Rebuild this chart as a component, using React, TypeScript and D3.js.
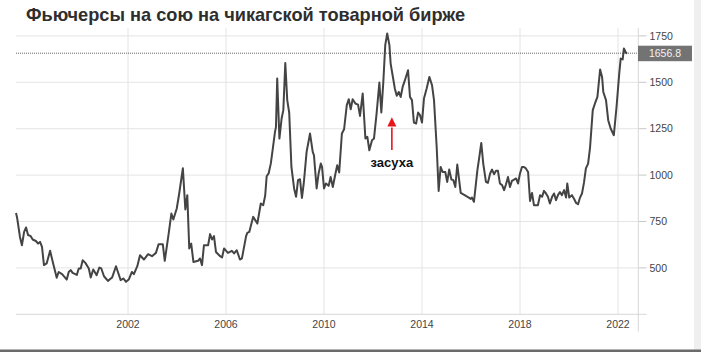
import React from "react";
import * as d3 from "d3";

const title = "Фьючерсы на сою на чикагской товарной бирже";
const annotationText = "засуха";
const annotationDate = 2012.77;
const arrowFrom = 1135;
const arrowTo = 1312;
const arrowHeadBase = 1262;

const dates: number[] = [
  1997.43, 1997.48, 1997.59, 1997.67, 1997.76, 1997.84, 1997.92, 1998.03, 1998.11, 1998.24,
  1998.33, 1998.41, 1998.49, 1998.57, 1998.68, 1998.82, 1998.93, 1999.09, 1999.17, 1999.31,
  1999.5, 1999.58, 1999.66, 1999.74, 1999.91, 1999.99, 2000.07, 2000.15, 2000.26, 2000.4,
  2000.48, 2000.58, 2000.72, 2000.83, 2000.91, 2001.02, 2001.18, 2001.35, 2001.51, 2001.7,
  2001.81, 2001.92, 2002.03, 2002.16, 2002.24, 2002.38, 2002.49, 2002.65, 2002.82, 2002.98,
  2003.14, 2003.25, 2003.42, 2003.5, 2003.66, 2003.77, 2003.85, 2003.99, 2004.09, 2004.24,
  2004.34, 2004.42, 2004.5, 2004.58, 2004.67, 2004.86, 2004.94, 2005.02, 2005.1, 2005.27,
  2005.35, 2005.43, 2005.51, 2005.59, 2005.76, 2005.84, 2005.92, 2006.08, 2006.24, 2006.33,
  2006.44, 2006.57, 2006.65, 2006.82, 2006.87, 2006.95, 2007.11, 2007.28, 2007.42, 2007.52,
  2007.6, 2007.66, 2007.74, 2007.83, 2007.92, 2008.0, 2008.04, 2008.09, 2008.18, 2008.27,
  2008.34, 2008.42, 2008.5, 2008.58, 2008.67, 2008.78, 2008.86, 2008.94, 2009.02, 2009.1,
  2009.18, 2009.29, 2009.43, 2009.54, 2009.59, 2009.7, 2009.78, 2009.87, 2009.92, 2010.0,
  2010.08, 2010.19, 2010.27, 2010.36, 2010.46, 2010.54, 2010.62, 2010.73, 2010.82, 2010.93,
  2011.01, 2011.09, 2011.17, 2011.28, 2011.39, 2011.47, 2011.58, 2011.69, 2011.77, 2011.85,
  2011.96, 2012.04, 2012.15, 2012.26, 2012.34, 2012.42, 2012.5, 2012.58, 2012.67, 2012.72,
  2012.8, 2012.89, 2012.97, 2013.05, 2013.13, 2013.21, 2013.29, 2013.43, 2013.51, 2013.59,
  2013.67, 2013.76, 2013.84, 2013.92, 2014.0, 2014.08, 2014.19, 2014.3, 2014.41, 2014.49,
  2014.6, 2014.68, 2014.76, 2014.84, 2014.95, 2015.03, 2015.11, 2015.2, 2015.28, 2015.36,
  2015.44, 2015.58, 2015.74, 2015.91, 2015.99, 2016.04, 2016.12, 2016.26, 2016.34, 2016.42,
  2016.5, 2016.61, 2016.69, 2016.78, 2016.86, 2016.94, 2017.02, 2017.1, 2017.18, 2017.27,
  2017.35, 2017.43, 2017.51, 2017.59, 2017.67, 2017.76, 2017.84, 2017.92, 2018.0, 2018.08,
  2018.16, 2018.24, 2018.33, 2018.41, 2018.49, 2018.57, 2018.65, 2018.73, 2018.82, 2018.9,
  2018.98, 2019.06, 2019.14, 2019.22, 2019.31, 2019.39, 2019.47, 2019.55, 2019.63, 2019.71,
  2019.8, 2019.88, 2019.93, 2020.01, 2020.12, 2020.2, 2020.29, 2020.37, 2020.45, 2020.53,
  2020.61, 2020.69, 2020.78, 2020.86, 2020.97, 2021.06, 2021.16, 2021.27, 2021.35, 2021.4,
  2021.51, 2021.6, 2021.7, 2021.83, 2021.94, 2022.05, 2022.11, 2022.19, 2022.24, 2022.33,
  2022.38,
];

const prices: number[] = [
  796, 766, 667, 622, 694, 718, 677, 671, 653, 645,
  631, 640, 613, 515, 524, 592, 532, 447, 478, 466,
  437, 478, 488, 473, 462, 497, 497, 541, 527, 497,
  448, 491, 461, 502, 497, 455, 430, 448, 509, 434,
  443, 425, 437, 478, 466, 509, 568, 545, 574, 563,
  581, 628, 628, 538, 685, 793, 761, 820, 901, 1037,
  815, 892, 605, 631, 532, 538, 551, 515, 622, 622,
  682, 653, 671, 586, 563, 556, 605, 581, 592, 578,
  595, 545, 551, 671, 689, 694, 775, 739, 847, 838,
  890, 994, 1009, 1063, 1152, 1233, 1260, 1520, 1197, 1305,
  1350, 1604, 1404, 1336, 1044, 928, 883, 973, 978, 877,
  963, 1125, 1224, 1125, 1107, 928, 1009, 1062, 1044, 928,
  955, 942, 990, 936, 1003, 1053, 1014, 1224, 1247, 1377,
  1409, 1355, 1409, 1386, 1380, 1319, 1440, 1197, 1206, 1134,
  1188, 1197, 1337, 1499, 1337, 1499, 1700, 1763, 1700, 1601,
  1538, 1467, 1427, 1448, 1421, 1475, 1506, 1565, 1421, 1404,
  1283, 1278, 1337, 1323, 1283, 1413, 1467, 1529, 1484, 1404,
  1150, 915, 1044, 1017, 1017, 963, 1030, 976, 973, 936,
  1057, 904, 892, 879, 872, 879, 856, 1026, 1098, 1173,
  1062, 963, 958, 1009, 1030, 1005, 1023, 1023, 955, 946,
  919, 951, 990, 936, 969, 976, 982, 955, 1009, 1044,
  1044, 1036, 1017, 861, 904, 838, 838, 838, 892, 883,
  915, 901, 883, 847, 883, 901, 865, 892, 909, 892,
  919, 879, 955, 879, 892, 874, 850, 843, 879, 901,
  958, 1036, 1062, 1150, 1350, 1386, 1421, 1569, 1529, 1448,
  1404, 1296, 1251, 1215, 1367, 1547, 1628, 1623, 1682, 1658,
  1656.8,
];

const yTicks: number[] = [500, 750, 1000, 1250, 1500, 1750];
const xTicks: number[] = [2002, 2006, 2010, 2014, 2018, 2022];
const lastValue = 1656.8;

const W = 701;
const H = 352;
const plotLeft = 16;
const plotRight = 638.3;
const plotTop = 28;
const plotBottom = 314.3;

export default function App() {
  const x = d3.scaleLinear().domain([2002, 2022]).range([128, 618]);
  const y = d3.scaleLinear().domain([250, 1750]).range([plotBottom, 35.9]);
  const pts = dates.map((d, i) => [d, prices[i]] as [number, number]);
  const line = d3
    .line<[number, number]>()
    .x((d) => x(d[0]))
    .y((d) => y(d[1]));
  const yl = y(lastValue);
  const ax = x(annotationDate);
  const a0 = y(arrowFrom);
  const a1 = y(arrowTo);
  const ab = y(arrowHeadBase);
  const font = "'Liberation Sans', Arial, sans-serif";

  return (
    <svg
      width={W}
      height={H}
      style={{ position: "absolute", left: 0, top: 0, background: "#fff" }}
      fontFamily={font}
    >
      <rect x={0} y={0} width={W} height={H} fill="#fff" />
      <rect x={694} y={0} width={W - 694} height={H} fill="#efefef" />
      <rect x={0} y={349.5} width={W} height={2.5} fill="#6a6a6a" />
      <text x={26} y={20.5} fontSize={18.2} fontWeight="bold" fill="#2e2e2e">
        {title}
      </text>
      {yTicks.map((t) => (
        <g key={"y" + t}>
          <line x1={plotLeft} x2={plotRight} y1={y(t)} y2={y(t)} stroke="#e4e4e4" strokeWidth={1} />
          <line x1={plotRight} x2={646.5} y1={y(t)} y2={y(t)} stroke="#c8c8c8" strokeWidth={1} />
          <text x={649.5} y={y(t)} dy="0.35em" fontSize={10.5} fill="#444">
            {t}
          </text>
        </g>
      ))}
      {xTicks.map((t) => (
        <g key={"x" + t}>
          <line x1={x(t)} x2={x(t)} y1={plotTop} y2={plotBottom} stroke="#e4e4e4" strokeWidth={1} />
          <text x={x(t)} y={328.3} textAnchor="middle" fontSize={10.5} fill="#444">
            {t}
          </text>
        </g>
      ))}
      <line x1={plotLeft} x2={646.5} y1={plotBottom} y2={plotBottom} stroke="#d8d8d8" strokeWidth={1} />
      <line x1={plotRight} x2={plotRight} y1={plotTop} y2={331.7} stroke="#d8d8d8" strokeWidth={1} />
      <line
        x1={plotLeft}
        x2={plotRight}
        y1={yl}
        y2={yl}
        stroke="#666"
        strokeWidth={1}
        strokeDasharray="1,1"
      />
      <path d={line(pts) || ""} fill="none" stroke="#444" strokeWidth={2} strokeLinejoin="round" />
      <rect x={638} y={yl - 7.5} width={54} height={15.5} fill="#737373" />
      <text x={665} y={yl} dy="0.35em" textAnchor="middle" fontSize={10.5} fill="#f2f2f2">
        {lastValue}
      </text>
      <line x1={ax} x2={ax} y1={a0} y2={ab + 1} stroke="#e8161b" strokeWidth={1.6} />
      <path d={`M${ax},${a1} L${ax - 4.5},${ab} L${ax + 4.5},${ab} Z`} fill="#e8161b" />
      <text x={ax} y={166.7} textAnchor="middle" fontSize={13} fontWeight="bold" fill="#111">
        {annotationText}
      </text>
    </svg>
  );
}
